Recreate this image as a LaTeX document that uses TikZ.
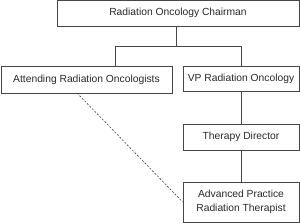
\documentclass[tikz,border=0pt]{standalone}
\usepackage{fontspec}
\setmainfont{Liberation Sans}
\usepackage{tikz}
\usetikzlibrary{positioning}
\definecolor{boxline}{RGB}{70,70,70}
\definecolor{boxtext}{RGB}{40,40,40}

\begin{document}
\begin{tikzpicture}[x=1pt,y=-1pt,
  orgbox/.style={draw=boxline,line width=.6pt,text=boxtext,inner sep=0pt,align=center,font=\fontsize{10.3}{14.5}\selectfont},
  link/.style={draw=boxline,line width=.6pt}]
\useasboundingbox (0,0) rectangle (300,223);
\node[orgbox,minimum width=242pt,minimum height=25.5pt] (chair) at (178,13.25){Radiation Oncology Chairman};
\node[orgbox,minimum width=171pt,minimum height=27pt] (att) at (86.5,79.5){Attending Radiation Oncologists};
\node[orgbox,minimum width=116pt,minimum height=25pt] (vp) at (241,78.5){VP Radiation Oncology};
\node[orgbox,minimum width=116pt,minimum height=26pt] (ther) at (241,137){Therapy Director};
\node[orgbox,minimum width=116pt,minimum height=40pt] (aprt) at (241,202){Advanced Practice\\Radiation Therapist};
\coordinate (jm) at (176,46);
\coordinate (jl) at (115,46);
\coordinate (jr) at (241,46);
\coordinate (dstart) at (77,93);
\draw[link] (jm |- chair.south)--(jm);
\draw[link] (jl |- att.north)--(jl)--(jr)--(vp.north);
\draw[link] (vp.south)--(ther.north);
\draw[link] (ther.south)--(aprt.north);
\draw[link,dash pattern=on 2pt off 1.6pt] (dstart)--(aprt.west);
\end{tikzpicture}
\end{document}
